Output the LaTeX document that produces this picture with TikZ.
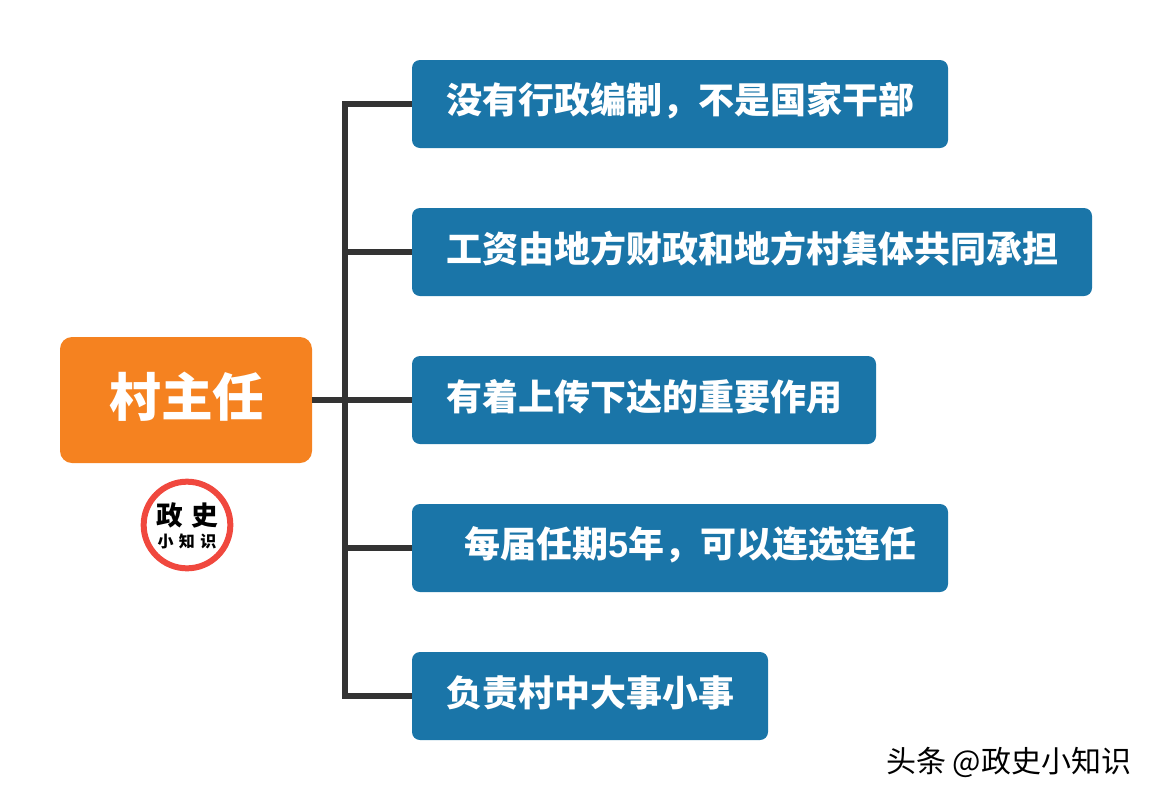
\documentclass[tikz,border=0pt]{standalone}
\usepackage{fontspec}
\setmainfont{Noto Sans CJK SC}
\newfontfamily\digitfont{Liberation Sans}
\newcommand{\uptext}[1]{\raisebox{2.25pt}[\height][\depth]{#1}}
\definecolor{rootorange}{HTML}{F58220}
\definecolor{itemblue}{HTML}{1A75A8}
\definecolor{linegray}{HTML}{333333}
\definecolor{ringred}{HTML}{F0483E}
\tikzset{
  rootbox/.style={fill=rootorange,rounded corners=9pt,minimum width=189pt,minimum height=94.5pt,inner sep=0pt,text=white,font=\fontsize{38.8}{40}\selectfont\bfseries},
  itembox/.style={fill=itemblue,rounded corners=6pt,minimum height=66pt,inner sep=0pt,text=white,font=\fontsize{27}{30}\selectfont\bfseries},
  branch/.style={draw=linegray,line width=4.5pt},
}
\begin{document}
\begin{tikzpicture}[x=0.75pt,y=-0.75pt]
\useasboundingbox (0,0) rectangle (1152,800);
% Root box
\node[rootbox] (root) at (186,400) {\hspace*{1.5pt}\uptext{村主任}};
% Five boxes on the right
\node[itembox,minimum width=402pt] (box1) at (680,104) {\uptext{没有行政编制，不是国家干部}};
\node[itembox,minimum width=510pt] (box2) at (752,252) {\uptext{工资由地方财政和地方村集体共同承担}};
\node[itembox,minimum width=348pt] (box3) at (644,400) {\uptext{有着上传下达的重要作用}};
\node[itembox,minimum width=402pt] (box4) at (680,548) {\hspace*{16pt}\uptext{每届任期{\digitfont 5}年，可以连选连任}};
\node[itembox,minimum width=267pt] (box5) at (590,696) {\uptext{负责村中大事小事}};
% Connectors
\coordinate (spine) at (345,400);
\draw[branch] (root.east) -- (box3.west);
\draw[branch] (box1.west) -| (spine);
\draw[branch] (box2.west) -- (box2.west -| spine);
\draw[branch] (box4.west) -- (box4.west -| spine);
\draw[branch] (box5.west) -| (spine);
% Stamp under the root box
\node[circle,draw=ringred,line width=4.5pt,minimum size=65pt,inner sep=0pt] (ring) at (187,525) {};
\node[font=\fontsize{20}{20}\selectfont\bfseries] (stampa) at (187,515) {政\hspace{6pt}史};
\node[font=\fontsize{12}{12}\selectfont\bfseries] (stampb) at (187,541) {小\hspace{4pt}知\hspace{4pt}识};
% Watermark
\node[anchor=east,font=\fontsize{22.5}{24}\selectfont] (mark) at (1136,762) {头条 @政史小知识};
\end{tikzpicture}
\end{document}
